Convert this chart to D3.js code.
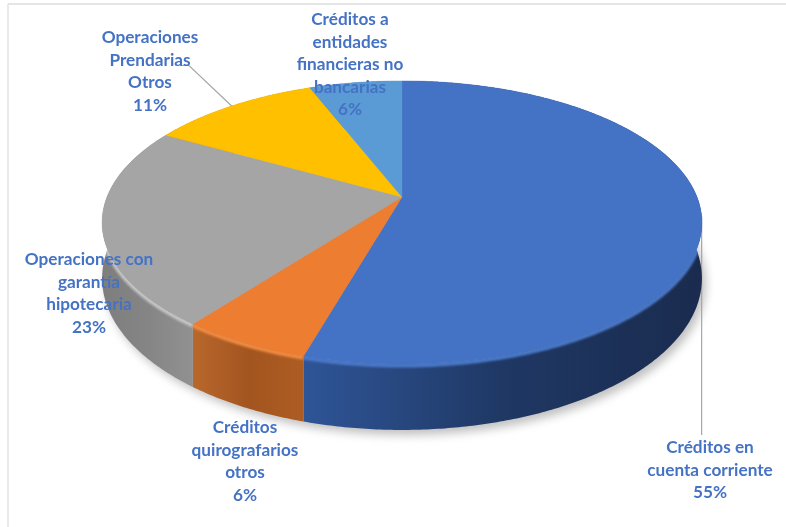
<!DOCTYPE html>
<html>
<head>
<meta charset="utf-8">
<script src="https://cdn.jsdelivr.net/npm/d3@7"></script>
<style>
	html, body { margin: 0; padding: 0; background: #fff; }
	svg { display: block; filter: blur(0.45px); }
	text { font-family: Lato, sans-serif; font-weight: 700; font-size: 17.2px; fill: #4472c4; text-anchor: middle; }
</style>
</head>
<body>
<div id="chart"></div>
<script>
const categories = [
	["Créditos en", "cuenta corriente"],
	["Créditos", "quirografarios", "otros"],
	["Operaciones con", "garantía", "hipotecaria"],
	["Operaciones", "Prendarias", "Otros"],
	["Créditos a", "entidades", "financieras no", "bancarias"]
];
const values = [55, 6, 23, 11, 6];
const topColors = ["#4472c4", "#ed7d31", "#a5a5a5", "#ffc000", "#5b9bd5"];
const rimColors = ["#4a78c8", "#f08a42", "#c4c4c4", "#ffc000", "#5b9bd5"];
const sideStops = [
	["#2f5597", "#1f3864", "#1a2b4e"],
	["#b9682c", "#a35520", "#ad5d22"],
	["#7e7e7e", "#858585", "#919191"],
	["#bf9000", "#bf9000", "#bf9000"],
	["#41719c", "#41719c", "#41719c"]
];

// label layout: centre x and first baseline, same order as categories
const labelX = [710, 245, 89, 150, 350];
const labelY = [453, 433, 265, 43, 25];
const lineHeight = 22.6;

const w = 786, h = 527;
const cx = 402, cy = 197;      // apex of the slices
const radX = 295, radY = 137;  // disc size before perspective
const tilt = 0.18;             // near edge looks bigger than the far edge
const depth = 54;

// perspective of a point on the unit disc, angle clockwise from top
function project(angle) {
	const u = Math.sin(angle), v = -Math.cos(angle);
	const k = 1 - tilt * v;
	return { x: cx + radX * u / k, y: cy + radY * v / k, drop: depth / k };
}

const pie = d3.pie().sort(null).value(d => d);
const arcs = pie(values);
const line = d3.line().x(d => d.x).y(d => d.y);
const midPoint = d => project((d.startAngle + d.endAngle) / 2);

function rim(a0, a1) {
	const n = Math.max(2, Math.ceil((a1 - a0) / 0.01));
	return d3.range(n + 1).map(i => project(a0 + (a1 - a0) * i / n));
}
const lowered = pts => pts.map(p => ({ x: p.x, y: p.y + p.drop })).reverse();

const svg = d3.select("#chart").append("svg").attr("width", w).attr("height", h);
const defs = svg.append("defs");

defs.append("filter").attr("id", "shadow")
	.attr("x", "-10%").attr("y", "-10%").attr("width", "120%").attr("height", "125%")
	.append("feGaussianBlur").attr("stdDeviation", 5);
defs.append("filter").attr("id", "soft")
	.attr("filterUnits", "userSpaceOnUse")
	.attr("x", 0).attr("y", 0).attr("width", w).attr("height", h)
	.append("feGaussianBlur").attr("stdDeviation", 1.3);

// frame of the pasted picture
svg.append("line").attr("x1", 8).attr("x2", w).attr("y1", 4).attr("y2", 4)
	.attr("stroke", "#dcdcdc").attr("stroke-width", 1.5);
svg.append("line").attr("x1", 8).attr("x2", 8).attr("y1", 4).attr("y2", h)
	.attr("stroke", "#e2e2e2").attr("stroke-width", 1.5);

// soft shadow under the disc
const whole = rim(0, 2 * Math.PI);
svg.append("path")
	.attr("d", line(lowered(whole).map(p => ({ x: p.x + 4, y: p.y + 5 }))) + "Z")
	.attr("fill", "#8c8c8c")
	.attr("opacity", 0.55)
	.attr("filter", "url(#shadow)");

// leader lines go under the walls, they start at the middle of their slice
const blueMid = midPoint(arcs[0]);
const yellowMid = midPoint(arcs[3]);
svg.append("path")
	.attr("d", line([blueMid, { x: blueMid.x, y: labelY[0] - 18 }]))
	.attr("fill", "none").attr("stroke", "#a6a6a6").attr("stroke-width", 1.2);
svg.append("path")
	.attr("d", line([
		yellowMid,
		{ x: labelX[3] + 39, y: labelY[3] + 22.5 },
		{ x: labelX[3] + 30, y: labelY[3] + 22.5 }
	]))
	.attr("fill", "none").attr("stroke", "#a6a6a6").attr("stroke-width", 1.2);

// side wall gradients
const sideGrad = defs.selectAll("linearGradient")
	.data(arcs)
	.enter()
	.append("linearGradient")
	.attr("id", (d, i) => "side" + i)
	.attr("gradientUnits", "userSpaceOnUse")
	.attr("x1", d => d3.min(rim(d.startAngle, d.endAngle), p => p.x))
	.attr("x2", d => d3.max(rim(d.startAngle, d.endAngle), p => p.x))
	.attr("y1", 0).attr("y2", 0);
sideGrad.selectAll("stop")
	.data((d, i) => sideStops[i])
	.enter()
	.append("stop")
	.attr("offset", (d, i) => i / 2)
	.attr("stop-color", d => d);

// walls first, the top faces then cover the far half of them
const walls = arcs.map(d => {
	const pts = rim(d.startAngle, d.endAngle);
	return line(pts.concat(lowered(pts))) + "Z";
});
svg.append("g").selectAll("path")
	.data(arcs)
	.enter()
	.append("path")
	.attr("d", (d, i) => walls[i])
	.attr("fill", (d, i) => `url(#side${i})`);

// bevel stays inside the walls, otherwise it pokes out at the sides
defs.append("clipPath").attr("id", "wallClip")
	.append("path").attr("d", walls.join(""));

// light bevel along the near rim only
svg.append("g").attr("clip-path", "url(#wallClip)").selectAll("path")
	.data(arcs)
	.enter()
	.append("path")
	.attr("d", d => line(rim(d.startAngle, d.endAngle).filter(p => p.y > cy + 10).map(p => ({ x: p.x, y: p.y + 1 }))))
	.attr("fill", "none")
	.attr("stroke", (d, i) => rimColors[i])
	.attr("stroke-width", 5)
	.attr("filter", "url(#soft)");

// top faces
svg.append("g").selectAll("path")
	.data(arcs)
	.enter()
	.append("path")
	.attr("d", d => line([{ x: cx, y: cy }].concat(rim(d.startAngle, d.endAngle))) + "Z")
	.attr("fill", (d, i) => topColors[i])
	.attr("stroke", (d, i) => topColors[i])
	.attr("stroke-width", 0.4);

// labels
const labels = svg.append("g").selectAll("text")
	.data(categories)
	.enter()
	.append("text")
	.attr("y", (d, i) => labelY[i]);
labels.selectAll("tspan")
	.data((d, i) => d.concat(values[i] + "%").map(t => ({ t, i })))
	.enter()
	.append("tspan")
	.attr("x", d => labelX[d.i])
	.attr("dy", (d, j) => j ? lineHeight : 0)
	.text(d => d.t);
</script>
</body>
</html>
